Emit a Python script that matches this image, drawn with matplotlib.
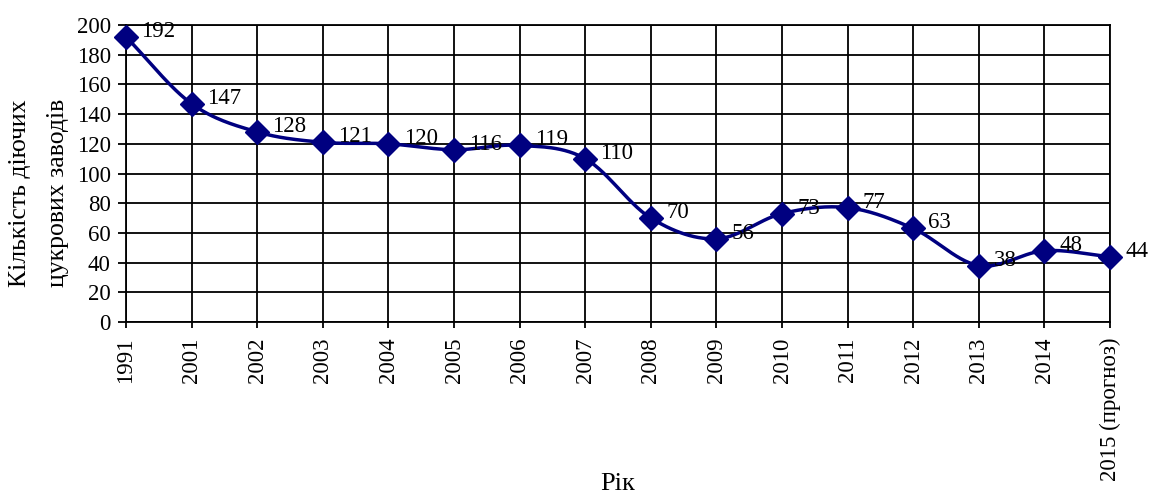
import numpy as np
import matplotlib
matplotlib.use("Agg")
import matplotlib.pyplot as plt

plt.rcParams['font.family'] = ['Liberation Serif', 'DejaVu Serif']

# data
years = ["1991", "2001", "2002", "2003", "2004", "2005", "2006", "2007",
         "2008", "2009", "2010", "2011", "2012", "2013", "2014", "2015 (прогноз)"]
factories = [192, 147, 128, 121, 120, 116, 119, 110, 70, 56, 73, 77, 63, 38, 48, 44]


def smooth(xs, ys, n=30):
    # catmull-rom curve through the points (like Excel's smoothed line)
    xs = np.asarray(xs, float)
    ys = np.asarray(ys, float)
    px = np.concatenate([[2 * xs[0] - xs[1]], xs, [2 * xs[-1] - xs[-2]]])
    py = np.concatenate([[2 * ys[0] - ys[1]], ys, [2 * ys[-1] - ys[-2]]])
    out_x, out_y = [], []
    t = np.linspace(0, 1, n)
    for i in range(1, len(px) - 2):
        for p, out in ((px, out_x), (py, out_y)):
            p0, p1, p2, p3 = p[i - 1], p[i], p[i + 1], p[i + 2]
            seg = 0.5 * ((2 * p1) + (-p0 + p2) * t +
                         (2 * p0 - 5 * p1 + 4 * p2 - p3) * t ** 2 +
                         (-p0 + 3 * p1 - 3 * p2 + p3) * t ** 3)
            out.extend(seg)
    return np.array(out_x), np.array(out_y)


x = np.arange(len(years))
sx, sy = smooth(x, factories)

W, H = 1153, 497
fig = plt.figure(figsize=(W / 100, H / 100), dpi=100)
ax = fig.add_axes([126 / W, 1 - 322 / H, (1110 - 126) / W, (322 - 25) / H])

ax.plot(sx, sy, color="#000080", lw=2.5, zorder=3, clip_on=False)
ax.plot(x, factories, ls="none", marker="D", ms=12.5, color="#000080", zorder=4, clip_on=False)

for xi, v in zip(x, factories):
    ax.annotate(str(v), (xi, v), xytext=(11, 4), textcoords="offset points",
                ha="left", va="center", fontsize=16.5, zorder=5)

ax.set_xlim(0, len(years) - 1)
ax.set_ylim(0, 200)
ax.set_yticks(range(0, 201, 20))
ax.set_xticks(x)
ax.set_xticklabels(years, rotation=90, fontsize=16.5)
ax.tick_params(axis="y", labelsize=16.5, length=6, width=1.3, pad=5)
ax.tick_params(axis="x", length=4, width=1.3, pad=7)
ax.grid(True, color="black", lw=1.3)
ax.set_axisbelow(True)
for s in ax.spines.values():
    s.set_linewidth(1.3)

# y title: two lines, Excel-style
fig.text(20 / W, 1 - 193 / H, "Кількість діючих", rotation=90, ha="center", va="center", fontsize=18.5)
fig.text(58 / W, 1 - 193 / H, "цукрових заводів", rotation=90, ha="center", va="center", fontsize=18.5)
fig.text(618 / W, 1 - 495 / H, "Рік", ha="center", va="bottom", fontsize=19)

fig.savefig("out.png", dpi=100)
